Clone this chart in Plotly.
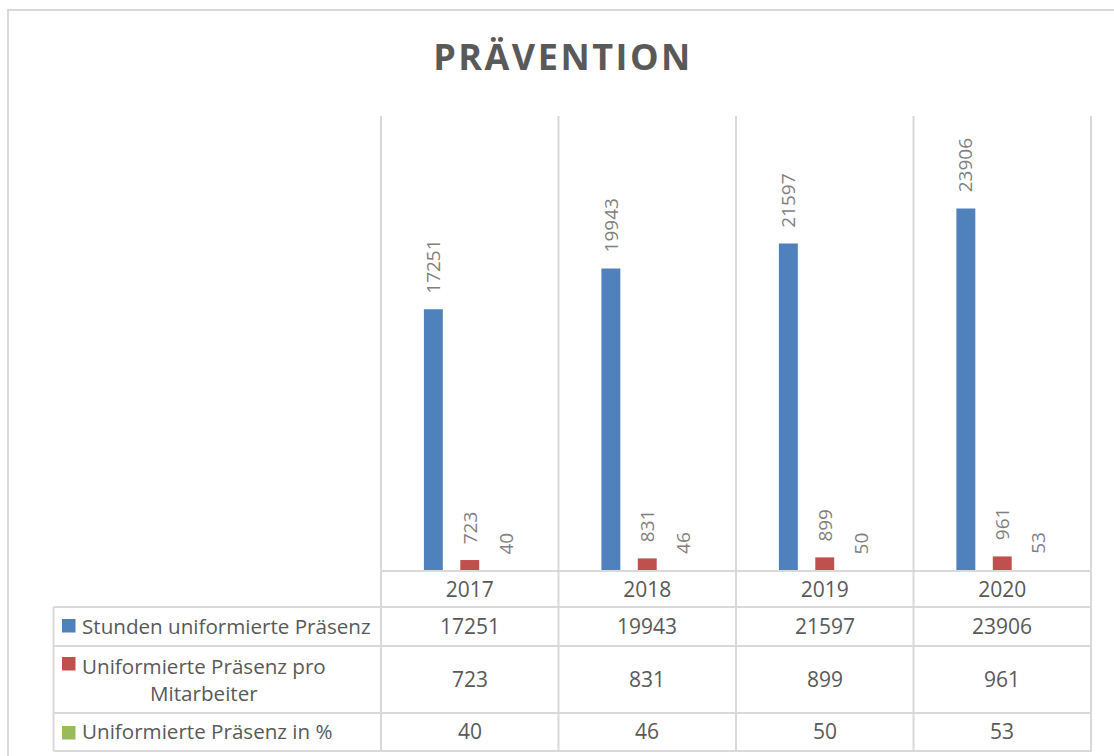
import plotly.graph_objects as go

# ---- data ----
years = ["2017", "2018", "2019", "2020"]
series_names = [
    "Stunden uniformierte Präsenz",
    "Uniformierte Präsenz pro<br>Mitarbeiter",
    "Uniformierte Präsenz in %",
]
stunden = [17251, 19943, 21597, 23906]
pro_mitarbeiter = [723, 831, 899, 961]
prozent = [40, 46, 50, 53]
series_values = [stunden, pro_mitarbeiter, prozent]
colors = ["#4f81bd", "#c0504d", "#9bbb59"]
title_text = "PRÄVENTION"

# ---- layout geometry (pixels) ----
W, H = 1114, 756
PL, PR, PT, PB = 380, 1092, 116, 571
GRID = "#d9d9d9"
TXT = "#595959"
LBL = "#7f7f7f"
FONT = "Open Sans"
BARGAP = 0.385
TSIZE = 21
LSIZE = 20.6


def ypap(p):
    return (PB - p) / (PB - PT)


def xpap(p):
    return (p - PL) / (PR - PL)


fig = go.Figure()
for name, vals, col in zip(series_names, series_values, colors):
    fig.add_trace(go.Bar(x=years, y=vals, name=name, marker_color=col,
                         marker_line_width=0, hoverinfo="skip"))

shapes = []
annotations = []

# outer frame
shapes.append(dict(type="rect", xref="paper", yref="paper",
                   x0=xpap(8), x1=xpap(1125), y0=ypap(770), y1=ypap(10),
                   line=dict(color=GRID, width=2), layer="below"))

# vertical lines at category boundaries
n = len(years)
for i in range(n + 1):
    shapes.append(dict(type="line", xref="x", yref="paper",
                       x0=i - 0.5, x1=i - 0.5, y0=ypap(751), y1=1,
                       line=dict(color=GRID, width=2), layer="below"))

# horizontal table lines
shapes.append(dict(type="line", xref="paper", yref="paper", x0=0, x1=1,
                   y0=0, y1=0, line=dict(color=GRID, width=2)))
row_lines = [607, 646, 713, 751]
for yl in row_lines:
    shapes.append(dict(type="line", xref="paper", yref="paper",
                       x0=xpap(53.5), x1=1, y0=ypap(yl), y1=ypap(yl),
                       line=dict(color=GRID, width=2)))
shapes.append(dict(type="line", xref="paper", yref="paper",
                   x0=xpap(53.5), x1=xpap(53.5), y0=ypap(751), y1=ypap(607),
                   line=dict(color=GRID, width=2)))

# data labels (rotated) above bars
slot = (1 - BARGAP) / len(series_values)
for k, vals in enumerate(series_values):
    off = (k - (len(series_values) - 1) / 2) * slot
    for i, v in enumerate(vals):
        annotations.append(dict(x=i + off, y=v, xref="x", yref="y",
                                text=str(v), showarrow=False, textangle=-90,
                                xanchor="center", yanchor="bottom", yshift=14,
                                font=dict(family=FONT, size=19, color=LBL)))

# table rows
row_centers = [626, 679, 731]
square_tops = [619, 657, 726]
for k, vals in enumerate(series_values):
    yc = ypap(row_centers[k])
    for i, v in enumerate(vals):
        annotations.append(dict(x=i, y=yc, xref="x", yref="paper",
                                text=str(v), showarrow=False,
                                xanchor="center", yanchor="middle",
                                font=dict(family=FONT, size=TSIZE, color=TXT)))
    annotations.append(dict(x=xpap(80), y=yc, xref="paper", yref="paper",
                            text=series_names[k], showarrow=False,
                            xanchor="left", yanchor="middle", align="center",
                            font=dict(family=FONT, size=LSIZE, color=TXT)))
    shapes.append(dict(type="rect", xref="paper", yref="paper",
                       x0=xpap(62), x1=xpap(75.5),
                       y0=ypap(square_tops[k] + 13.5), y1=ypap(square_tops[k]),
                       fillcolor=colors[k], line=dict(width=0)))

fig.update_layout(
    width=W, height=H,
    margin=dict(l=PL, r=W - PR, t=PT, b=H - PB, pad=0),
    paper_bgcolor="white", plot_bgcolor="white",
    barmode="group", bargap=BARGAP, bargroupgap=0.48,
    showlegend=False,
    title=dict(text='<span style="letter-spacing:2.5px">' + title_text + '</span>',
               x=563 / W, xanchor="center", xref="container",
               y=1 - 57 / H, yanchor="middle", yref="container",
               font=dict(family=FONT, size=36, color=TXT, weight="bold")),
    xaxis=dict(type="category", showgrid=False, zeroline=False, showline=False,
               ticks="", tickfont=dict(family=FONT, size=TSIZE, color=TXT),
               ticklabelstandoff=4, fixedrange=True),
    yaxis=dict(range=[0, 30000], showgrid=False, zeroline=False,
               showticklabels=False, showline=False, fixedrange=True),
    shapes=shapes,
    annotations=annotations,
)

fig.write_html("out.html")
